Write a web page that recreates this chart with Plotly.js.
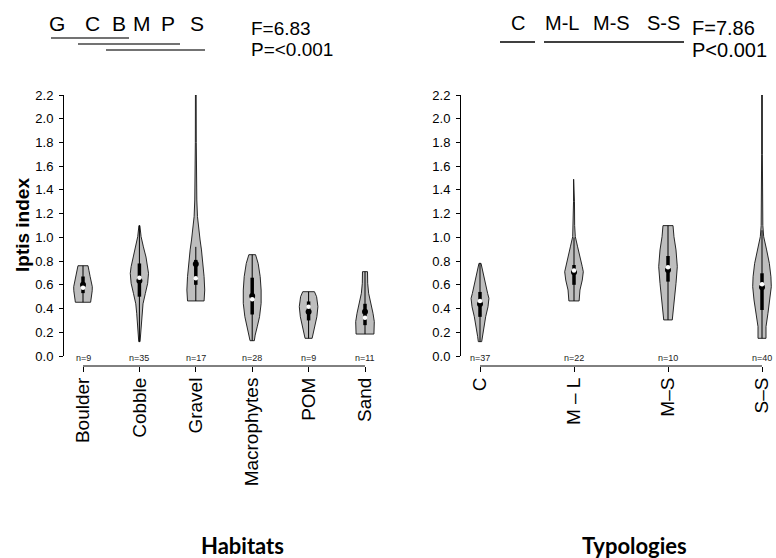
<!DOCTYPE html>
<html>
<head>
<meta charset="utf-8">
<script src="https://cdn.plot.ly/plotly-3.0.1.min.js"></script>
<style>html,body{margin:0;padding:0;background:#fff;}#chart{width:776px;height:558px;}</style>
</head>
<body>
<div id="chart"></div>
<script>
// ---------------- DATA ----------------
const habitats = ["Boulder", "Cobble", "Gravel", "Macrophytes", "POM", "Sand"];
const habitatN = [9, 35, 17, 28, 9, 11];
// density profiles: value levels and relative half-widths (max = 1)
const habProfileY = [
  [0.453, 0.50, 0.55, 0.584, 0.62, 0.669, 0.72, 0.761],
  [0.121, 0.19, 0.275, 0.36, 0.44, 0.528, 0.613, 0.697, 0.753, 0.834, 0.92, 1.006, 1.099],
  [0.464, 0.556, 0.669, 0.78, 0.894, 0.978, 1.062, 1.175, 1.315, 1.5, 1.8, 2.2],
  [0.129, 0.176, 0.246, 0.331, 0.444, 0.556, 0.669, 0.78, 0.854],
  [0.149, 0.19, 0.247, 0.331, 0.416, 0.50, 0.542],
  [0.185, 0.22, 0.29, 0.36, 0.444, 0.529, 0.613, 0.711]
];
const habProfileW = [
  [0.82, 0.93, 0.99, 1.0, 0.93, 0.77, 0.64, 0.54],
  [0.07, 0.14, 0.21, 0.29, 0.39, 0.64, 0.89, 0.98, 0.89, 0.71, 0.43, 0.18, 0.05],
  [0.89, 0.96, 0.89, 0.79, 0.61, 0.46, 0.32, 0.18, 0.11, 0.07, 0.05, 0.04],
  [0.23, 0.32, 0.54, 0.79, 0.96, 0.96, 0.86, 0.64, 0.36],
  [0.38, 0.50, 0.68, 0.89, 1.0, 0.86, 0.63],
  [0.96, 0.96, 1.0, 0.86, 0.64, 0.39, 0.29, 0.27]
];
const habMean   = [0.601, 0.635, 0.776, 0.506, 0.374, 0.374];
const habMedian = [0.576, 0.660, 0.655, 0.478, 0.416, 0.323];
const habQ1     = [0.53, 0.50, 0.60, 0.35, 0.30, 0.26];
const habQ3     = [0.67, 0.78, 0.81, 0.66, 0.46, 0.44];
const habLow    = [0.453, 0.121, 0.464, 0.129, 0.149, 0.185];
const habHigh   = [0.761, 1.099, 0.92, 0.854, 0.542, 0.711];

const typologies = ["C", "M \u2013 L", "M\u2013S", "S\u2013S"];
const typologyN = [37, 22, 10, 40];
const typProfileY = [
  [0.121, 0.163, 0.247, 0.331, 0.415, 0.486, 0.528, 0.612, 0.70, 0.781],
  [0.464, 0.556, 0.64, 0.71, 0.753, 0.837, 0.92, 1.006, 1.1, 1.3, 1.49],
  [0.304, 0.36, 0.472, 0.612, 0.753, 0.894, 1.006, 1.099],
  [0.149, 0.247, 0.36, 0.472, 0.584, 0.668, 0.781, 0.894, 1.006, 1.1, 1.3, 1.7, 2.2]
];
const typProfileW = [
  [0.18, 0.25, 0.39, 0.61, 0.86, 0.96, 0.82, 0.57, 0.32, 0.11],
  [0.55, 0.64, 0.89, 1.0, 0.89, 0.61, 0.39, 0.14, 0.07, 0.05, 0.04],
  [0.46, 0.54, 0.68, 0.86, 1.0, 0.86, 0.64, 0.54],
  [0.43, 0.43, 0.64, 0.86, 1.0, 0.96, 0.79, 0.50, 0.18, 0.09, 0.05, 0.04, 0.04]
];
const typMean   = [0.438, 0.705, 0.725, 0.580];
const typMedian = [0.463, 0.720, 0.748, 0.604];
const typQ1     = [0.33, 0.60, 0.627, 0.388];
const typQ3     = [0.54, 0.767, 0.843, 0.697];
const typLow    = [0.121, 0.464, 0.304, 0.149];
const typHigh   = [0.781, 1.0, 1.099, 1.06];

const yTicks = [0, 0.2, 0.4, 0.6, 0.8, 1.0, 1.2, 1.4, 1.6, 1.8, 2.0, 2.2];
const habGroupLetters = ["G", "C", "B", "M", "P", "S"];
const typGroupLetters = ["C", "M-L", "M-S", "S-S"];
const habStats = ["F=6.83", "P=<0.001"];
const typStats = ["F=7.86", "P<0.001"];

// ---------------- LAYOUT HELPERS ----------------
const W = 776, H = 558;
const PX = x => x / W;
const PY = y => 1 - y / H;
const FONT = "Liberation Sans, Arial, sans-serif";

function violinTraces(profY, profW, mean, med, q1, q3, lo, hi, halfWidth, xa, ya) {
  const out = [];
  profY.forEach((ys, i) => {
    const ws = profW[i];
    const xs = [], yy = [];
    for (let k = 0; k < ys.length; k++) { xs.push(i + ws[k] * halfWidth); yy.push(ys[k]); }
    for (let k = ys.length - 1; k >= 0; k--) { xs.push(i - ws[k] * halfWidth); yy.push(ys[k]); }
    xs.push(xs[0]); yy.push(yy[0]);
    out.push({x: xs, y: yy, xaxis: xa, yaxis: ya, mode: "lines", fill: "toself",
      fillcolor: "#bebebe", line: {color: "#111", width: 0.9}, hoverinfo: "skip"});
    out.push({x: [i, i], y: [lo[i], hi[i]], xaxis: xa, yaxis: ya, mode: "lines",
      line: {color: "#000", width: 1}, hoverinfo: "skip"});
    out.push({x: [i, i], y: [q1[i], q3[i]], xaxis: xa, yaxis: ya, mode: "lines",
      line: {color: "#000", width: 3.5}, hoverinfo: "skip"});
    out.push({x: [i], y: [mean[i]], xaxis: xa, yaxis: ya, mode: "markers",
      marker: {color: "#000", size: 6}, hoverinfo: "skip"});
    out.push({x: [i], y: [med[i]], xaxis: xa, yaxis: ya, mode: "markers",
      marker: {color: "#fff", size: 4.5}, hoverinfo: "skip"});
  });
  return out;
}

const traces = [].concat(
  violinTraces(habProfileY, habProfileW, habMean, habMedian, habQ1, habQ3, habLow, habHigh, 0.165, "x", "y"),
  violinTraces(typProfileY, typProfileW, typMean, typMedian, typQ1, typQ3, typLow, typHigh, 0.099, "x2", "y2")
);

// left panel: ticks at px 83..365 ; right panel: ticks at px 480..762
const lUnit = (365 - 83) / (habitats.length - 1);
const rUnit = (762 - 480) / (typologies.length - 1);

function xAxis(domL, domR, first, unit, cats, labels) {
  return {
    domain: [PX(domL), PX(domR)],
    range: [-(first - domL) / unit, (domR - first) / unit],
    anchor: "free", position: PY(366),
    tickmode: "array", tickvals: cats.map((c, i) => i), ticktext: labels,
    tickangle: -90, ticks: "outside", ticklen: 5, tickwidth: 1, tickcolor: "#000",
    ticklabelstandoff: -2,
    showline: false, showgrid: false, zeroline: false,
    tickfont: {family: FONT, size: 19, color: "#000"}, fixedrange: true
  };
}
function yAxis(pos) {
  return {
    domain: [PY(356), PY(95)], range: [0, 2.2],
    anchor: "free", position: PX(pos),
    tickmode: "array", tickvals: yTicks, ticktext: yTicks.map(v => v.toFixed(1)),
    ticks: "outside", ticklen: 4, tickwidth: 1, tickcolor: "#000",
    ticklabelstandoff: 3,
    showline: true, linecolor: "#000", linewidth: 1,
    showgrid: false, zeroline: false,
    tickfont: {family: FONT, size: 13, color: "#000"}, fixedrange: true
  };
}

const ann = (x, y, text, font, extra) => Object.assign({xref: "paper", yref: "paper", x: PX(x), y: PY(y),
  text: text, showarrow: false, xanchor: "center", yanchor: "middle", font: font}, extra || {});

const annotations = [];
habitatN.forEach((n, i) => annotations.push({xref: "x", yref: "paper", x: i, y: PY(358),
  xanchor: "center", yanchor: "middle",
  text: "n=" + n, showarrow: false, font: {family: FONT, size: 9, color: "#222"}}));
typologyN.forEach((n, i) => annotations.push({xref: "x2", yref: "paper", x: i, y: PY(358),
  xanchor: "center", yanchor: "middle",
  text: "n=" + n, showarrow: false, font: {family: FONT, size: 9, color: "#222"}}));

const habLetterX = [57, 92, 119, 142, 168, 197];
habGroupLetters.forEach((t, i) => annotations.push(ann(habLetterX[i], 23, t, {family: FONT, size: 21, color: "#000"})));
const typLetterX = [518, 561.5, 611, 663.5];
typGroupLetters.forEach((t, i) => annotations.push(ann(typLetterX[i], 23, t, {family: FONT, size: 20, color: "#000"})));

[[habStats, 249, 19], [typStats, 690, 20]].forEach(([arr, x0, fs]) => {
  arr.forEach((t, k) => annotations.push(ann(x0, k === 0 ? 28 : 50, t, {family: FONT, size: fs, color: "#000"}, {xanchor: "left"})));
});

annotations.push(ann(22, 225, "<b>Iptis index</b>", {family: FONT, size: 19, color: "#000"}, {textangle: -90}));
annotations.push(ann(242.5, 545, "<b>Habitats</b>", {family: "Lato, sans-serif", size: 22, color: "#000"}));
annotations.push(ann(634, 545, "<b>Typologies</b>", {family: "Lato, sans-serif", size: 22, color: "#000"}));

const seg = (x0, x1, y, color) => ({type: "line", xref: "paper", yref: "paper",
  x0: PX(x0), x1: PX(x1), y0: PY(y), y1: PY(y), line: {color: color, width: 1.3}});

const shapes = [
  {type: "line", xref: "x", yref: "paper", x0: 0, x1: habitats.length - 1, y0: PY(366), y1: PY(366), line: {color: "#000", width: 1}},
  {type: "line", xref: "x2", yref: "paper", x0: 0, x1: typologies.length - 1, y0: PY(366), y1: PY(366), line: {color: "#000", width: 1}},
  seg(51, 129, 38, "#444"), seg(78, 180, 44, "#444"), seg(106, 205, 50, "#444"),
  seg(500, 535, 42, "#000"), seg(544, 684, 42, "#000")
];

const layout = {
  width: W, height: H, margin: {l: 0, r: 0, t: 0, b: 0},
  paper_bgcolor: "#fff", plot_bgcolor: "rgba(0,0,0,0)", showlegend: false,
  font: {family: FONT, color: "#000"},
  xaxis: xAxis(63, 385, 83, lUnit, habitats, habitats),
  yaxis: yAxis(63),
  xaxis2: xAxis(460, 776, 480, rUnit, typologies, typologies),
  yaxis2: yAxis(460),
  annotations: annotations, shapes: shapes
};

Plotly.newPlot("chart", traces, layout, {displayModeBar: false, staticPlot: true});
</script>
</body>
</html>
